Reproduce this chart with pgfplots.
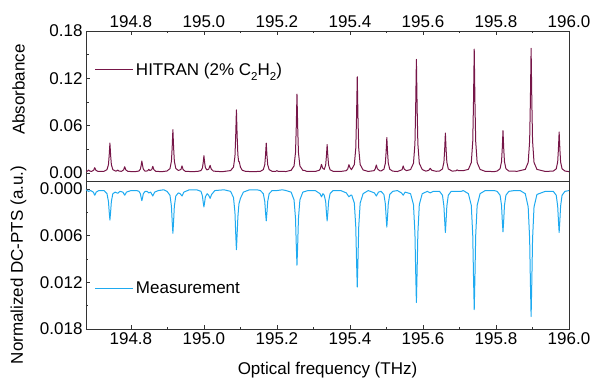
\documentclass[border=0pt]{standalone}
\usepackage{fontspec}
\setmainfont{Liberation Sans}
\usepackage{pgfplots}
\usepackage{pgfplotstable}
\pgfplotsset{compat=1.18}
\definecolor{hit}{RGB}{118,22,72}
\definecolor{meas}{RGB}{30,170,240}
\newcommand\ff{\fontsize{17}{20}\selectfont}
\newcommand\sub[1]{\raisebox{-0.28em}{\fontsize{11.5}{12}\selectfont #1}}
% x = optical frequency minus 194 THz (offset kept for numerical precision)
\pgfplotstableread[row sep=\\]{
x y\\
0.677 0.0018\\ 0.681 0.0024\\ 0.684 0.0038\\ 0.687 0.0026\\ 0.692 0.0020\\ 0.698 0.0036\\ 0.701 0.0068\\ 0.704 0.0036\\ 0.709 0.0022\\
0.7265 0.0022\\ 0.7345 0.0043\\ 0.7385 0.0106\\ 0.7405 0.0223\\ 0.7425 0.0380\\ 0.7445 0.0223\\ 0.7465 0.0106\\ 0.7505 0.0043\\ 0.7585 0.0024\\
0.761 0.0027\\ 0.764 0.0038\\ 0.767 0.0026\\ 0.774 0.0021\\ 0.780 0.0040\\ 0.783 0.0080\\ 0.786 0.0040\\ 0.792 0.0020\\
0.812 0.0018\\ 0.822 0.0025\\ 0.826 0.0050\\ 0.828 0.0094\\ 0.830 0.0153\\ 0.832 0.0094\\ 0.834 0.0050\\ 0.838 0.0026\\
0.842 0.0024\\ 0.846 0.0030\\ 0.849 0.0047\\ 0.852 0.0032\\ 0.857 0.0042\\ 0.860 0.0085\\ 0.863 0.0042\\ 0.868 0.0022\\
0.885 0.0017\\ 0.899 0.0026\\ 0.907 0.0056\\ 0.911 0.0149\\ 0.913 0.0320\\ 0.915 0.0550\\ 0.917 0.0320\\ 0.919 0.0149\\ 0.923 0.0058\\ 0.930 0.0032\\
0.937 0.0045\\ 0.940 0.0090\\ 0.943 0.0044\\ 0.949 0.0022\\
0.970 0.0017\\ 0.984 0.0022\\ 0.992 0.0031\\ 0.996 0.0066\\ 0.998 0.0132\\ 1.000 0.0220\\ 1.002 0.0132\\ 1.004 0.0068\\ 1.008 0.0040\\
1.013 0.0048\\ 1.017 0.0098\\ 1.020 0.0050\\ 1.026 0.0024\\
1.050 0.0017\\ 1.073 0.0031\\ 1.081 0.0075\\ 1.085 0.0211\\ 1.087 0.0462\\ 1.089 0.0800\\ 1.091 0.0470\\ 1.093 0.0230\\ 1.095 0.0150\\ 1.097 0.0140\\ 1.100 0.0075\\ 1.105 0.0035\\ 1.115 0.0020\\
1.140 0.0018\\ 1.1547 0.0022\\ 1.1627 0.0043\\ 1.1667 0.0106\\ 1.1687 0.0223\\ 1.1707 0.0380\\ 1.1727 0.0223\\ 1.1747 0.0106\\ 1.1787 0.0043\\ 1.1867 0.0022\\
1.197 0.0022\\ 1.200 0.0030\\ 1.203 0.0022\\
1.225 0.0019\\ 1.2389 0.0035\\ 1.2469 0.0090\\ 1.2509 0.0261\\ 1.2529 0.0576\\ 1.2549 0.1000\\ 1.2569 0.0576\\ 1.2589 0.0261\\ 1.2629 0.0090\\ 1.2709 0.0035\\
1.276 0.0032\\ 1.282 0.0020\\
1.305 0.0020\\ 1.316 0.0035\\ 1.319 0.0055\\ 1.322 0.0110\\ 1.325 0.0065\\ 1.3295 0.0045\\ 1.3335 0.0101\\ 1.3355 0.0212\\ 1.3375 0.0360\\ 1.3395 0.0212\\ 1.3415 0.0101\\ 1.3455 0.0041\\ 1.3535 0.0022\\
1.375 0.0020\\ 1.390 0.0030\\ 1.394 0.0052\\ 1.3972 0.0106\\ 1.400 0.0070\\ 1.404 0.0042\\
1.412 0.0107\\ 1.416 0.0316\\ 1.418 0.0702\\ 1.420 0.1220\\ 1.422 0.0702\\ 1.424 0.0316\\ 1.428 0.0107\\ 1.436 0.0039\\ 1.450 0.0020\\
1.466 0.0030\\ 1.469 0.0050\\ 1.4723 0.0102\\ 1.475 0.0055\\ 1.481 0.0030\\
1.485 0.0026\\ 1.493 0.0048\\ 1.497 0.0124\\ 1.499 0.0263\\ 1.501 0.0450\\ 1.503 0.0263\\ 1.505 0.0124\\ 1.509 0.0048\\ 1.517 0.0024\\
1.530 0.0019\\ 1.5428 0.0042\\ 1.5458 0.0090\\ 1.5488 0.0048\\ 1.555 0.0030\\
1.566 0.0044\\ 1.574 0.0123\\ 1.578 0.0371\\ 1.580 0.0827\\ 1.582 0.1440\\ 1.584 0.0827\\ 1.586 0.0371\\ 1.590 0.0123\\ 1.598 0.0044\\ 1.608 0.0024\\
1.616 0.0035\\ 1.620 0.0060\\ 1.624 0.0035\\ 1.636 0.0022\\
1.6454 0.0025\\ 1.6534 0.0052\\ 1.6574 0.0138\\ 1.6594 0.0295\\ 1.6614 0.0507\\ 1.6634 0.0295\\ 1.6654 0.0138\\ 1.6694 0.0052\\
1.680 0.0024\\ 1.690 0.0028\\ 1.6936 0.0040\\ 1.697 0.0030\\ 1.710 0.0030\\
1.7244 0.0046\\ 1.7324 0.0133\\ 1.7364 0.0404\\ 1.7384 0.0901\\ 1.7404 0.1570\\ 1.7424 0.0901\\ 1.7444 0.0404\\ 1.7484 0.0133\\ 1.7564 0.0046\\ 1.770 0.0022\\
1.795 0.0018\\ 1.8032 0.0025\\ 1.8112 0.0055\\ 1.8152 0.0145\\ 1.8172 0.0312\\ 1.8192 0.0536\\ 1.8212 0.0312\\ 1.8232 0.0145\\ 1.8272 0.0055\\ 1.8352 0.0025\\ 1.858 0.0022\\
1.8802 0.0046\\ 1.8882 0.0134\\ 1.8922 0.0406\\ 1.8942 0.0907\\ 1.8962 0.1580\\ 1.8982 0.0907\\ 1.9002 0.0406\\ 1.9042 0.0134\\ 1.9122 0.0046\\ 1.935 0.0020\\
1.957 0.0025\\ 1.965 0.0053\\ 1.969 0.0141\\ 1.971 0.0303\\ 1.973 0.0520\\ 1.975 0.0303\\ 1.977 0.0141\\ 1.981 0.0053\\ 1.989 0.0025\\ 2.000 0.0018\\
}\hitran
\pgfplotstableread[row sep=\\]{
x y\\
0.677 0.0001\\ 0.684 0.0003\\ 0.690 0.0002\\ 0.697 0.0004\\ 0.701 0.0008\\ 0.705 0.0004\\ 0.712 0.0002\\
0.7265 0.0002\\ 0.7345 0.0006\\ 0.7385 0.0016\\ 0.7405 0.0029\\ 0.7425 0.0040\\ 0.7445 0.0029\\ 0.7465 0.0016\\ 0.7505 0.0006\\ 0.757 0.0004\\
0.764 0.00055\\ 0.770 0.0003\\ 0.778 0.0004\\ 0.783 0.0008\\ 0.788 0.0004\\ 0.800 0.0002\\
0.816 0.0002\\ 0.822 0.0003\\ 0.826 0.0006\\ 0.828 0.0011\\ 0.830 0.0015\\ 0.832 0.0011\\ 0.834 0.0006\\ 0.839 0.0003\\
0.844 0.0003\\ 0.849 0.0005\\ 0.854 0.0004\\ 0.860 0.0009\\ 0.865 0.0004\\ 0.875 0.0002\\
0.890 0.0001\\ 0.899 0.0003\\ 0.907 0.0008\\ 0.911 0.0022\\ 0.913 0.0041\\ 0.915 0.0057\\ 0.917 0.0041\\ 0.919 0.0022\\ 0.923 0.0009\\ 0.930 0.0005\\
0.935 0.0006\\ 0.940 0.0009\\ 0.945 0.0004\\ 0.960 0.0001\\
0.980 0.0001\\ 0.992 0.0003\\ 0.996 0.0009\\ 0.998 0.0017\\ 1.000 0.0023\\ 1.002 0.0017\\ 1.004 0.0010\\ 1.009 0.0006\\
1.013 0.0008\\ 1.017 0.0012\\ 1.021 0.0007\\ 1.030 0.0002\\
1.055 0.0001\\ 1.073 0.0003\\ 1.081 0.0011\\ 1.085 0.0030\\ 1.087 0.0056\\ 1.089 0.0078\\ 1.091 0.0058\\ 1.093 0.0036\\ 1.096 0.0019\\ 1.100 0.0012\\ 1.108 0.0004\\ 1.125 0.0001\\
1.145 0.0001\\ 1.1547 0.0002\\ 1.1627 0.0006\\ 1.1667 0.0016\\ 1.1687 0.0030\\ 1.1707 0.0041\\ 1.1727 0.0030\\ 1.1747 0.0016\\ 1.1787 0.0006\\ 1.1867 0.0002\\
1.200 0.0002\\ 1.215 0.0001\\
1.225 0.0002\\ 1.2389 0.0004\\ 1.2469 0.0014\\ 1.2509 0.0038\\ 1.2529 0.0071\\ 1.2549 0.0098\\ 1.2569 0.0071\\ 1.2589 0.0038\\ 1.2629 0.0014\\ 1.2709 0.0004\\ 1.285 0.0002\\
1.305 0.0002\\ 1.318 0.0006\\ 1.322 0.0010\\ 1.326 0.0006\\ 1.3295 0.0008\\ 1.3335 0.0016\\ 1.3355 0.0030\\ 1.3375 0.0041\\ 1.3395 0.0030\\ 1.3415 0.0016\\ 1.3455 0.0006\\ 1.3535 0.0002\\
1.375 0.0002\\ 1.390 0.0005\\ 1.3972 0.0010\\ 1.402 0.0008\\ 1.405 0.0008\\
1.412 0.0018\\ 1.416 0.0049\\ 1.418 0.0091\\ 1.420 0.0126\\ 1.422 0.0091\\ 1.424 0.0049\\ 1.428 0.0018\\ 1.436 0.0006\\ 1.450 0.0002\\
1.467 0.0005\\ 1.4723 0.0009\\ 1.478 0.0004\\
1.485 0.0003\\ 1.493 0.0007\\ 1.497 0.0019\\ 1.499 0.0035\\ 1.501 0.0049\\ 1.503 0.0035\\ 1.505 0.0019\\ 1.509 0.0007\\ 1.517 0.0003\\
1.530 0.0002\\ 1.541 0.0005\\ 1.5458 0.0008\\ 1.551 0.0004\\
1.566 0.0006\\ 1.574 0.0020\\ 1.578 0.0057\\ 1.580 0.0105\\ 1.582 0.0146\\ 1.584 0.0105\\ 1.586 0.0057\\ 1.590 0.0020\\ 1.598 0.0006\\ 1.612 0.0003\\
1.620 0.0005\\ 1.628 0.0003\\
1.6454 0.0003\\ 1.6534 0.0008\\ 1.6574 0.0022\\ 1.6594 0.0040\\ 1.6614 0.0056\\ 1.6634 0.0040\\ 1.6654 0.0022\\ 1.6694 0.0008\\ 1.6774 0.0003\\
1.6936 0.0003\\ 1.705 0.0003\\ 1.7104 0.0002\\
1.7244 0.0006\\ 1.7324 0.0021\\ 1.7364 0.0060\\ 1.7384 0.0112\\ 1.7404 0.0155\\ 1.7424 0.0112\\ 1.7444 0.0060\\ 1.7484 0.0021\\ 1.7564 0.0006\\ 1.7704 0.0002\\
1.795 0.0002\\ 1.8032 0.0003\\ 1.8112 0.0008\\ 1.8152 0.0021\\ 1.8172 0.0040\\ 1.8192 0.0055\\ 1.8212 0.0040\\ 1.8232 0.0021\\ 1.8272 0.0008\\ 1.8352 0.0003\\ 1.850 0.0002\\
1.8662 0.0002\\ 1.8802 0.0006\\ 1.8882 0.0023\\ 1.8922 0.0064\\ 1.8942 0.0118\\ 1.8962 0.0164\\ 1.8982 0.0118\\ 1.9002 0.0064\\ 1.9042 0.0023\\ 1.9122 0.0007\\ 1.935 0.0003\\
1.957 0.0003\\ 1.965 0.0008\\ 1.969 0.0022\\ 1.971 0.0040\\ 1.973 0.0056\\ 1.975 0.0040\\ 1.977 0.0022\\ 1.981 0.0008\\ 1.989 0.0003\\ 2.000 0.0002\\
}\meas
\pgfplotsset{
  myax/.style={
    scale only axis, width=483pt,
    xmin=0.677, xmax=2.0,
    xtick={0.8,1.0,1.2,1.4,1.6,1.8,2.0},
    xticklabels={194.8,195.0,195.2,195.4,195.6,195.8,196.0},
    minor x tick num=1, minor y tick num=1,
    tick align=inside, major tick length=4pt, minor tick length=2.5pt,
    ytick pos=left,
    axis line style={black!80, line width=0.8pt},
    every tick/.append style={black!80, line width=0.7pt},
    tick label style={font=\ff},
    label style={font=\ff},
    /pgf/number format/assume math mode=true,
    scaled y ticks=false,
    legend style={draw=none, fill=none, font=\ff, anchor=west, legend cell align=left},
    legend image code/.code={\draw[##1, line width=1pt] (0pt,0pt) -- (38pt,0pt);},
  }
}
\begin{document}
\begin{tikzpicture}
\path[use as bounding box] (0pt,0pt) rectangle (600pt,388pt);
\begin{axis}[myax, at={(86pt,207pt)}, anchor=south west, height=150pt,
  ymin=-0.0101, ymax=0.18, ytick={0,0.06,0.12,0.18},
  yticklabel style={/pgf/number format/.cd, fixed, fixed zerofill, precision=2},
  xtick pos=right, xticklabel pos=right,
  ylabel={Absorbance},
  ylabel style={at={(axis description cs:-0.1398,0.61)}, anchor=center},
  legend style={at={(axis description cs:0.012,0.74)}},
]
\addplot[hit, line width=1pt, line join=round] table[x=x,y=y] {\hitran};
\addlegendentry{HITRAN (2\% C\sub{2}H\sub{2})}
\end{axis}
\begin{axis}[myax, at={(86pt,59pt)}, anchor=south west, height=148pt,
  y dir=reverse, ymin=-0.00103, ymax=0.018, ytick={0,0.006,0.012,0.018},
  yticklabel style={/pgf/number format/.cd, fixed, fixed zerofill, precision=3},
  xtick pos=left, xticklabel pos=left,
  xlabel={Optical frequency (THz)},
  xlabel style={at={(axis description cs:0.5,-0.277)}, anchor=center},
  ylabel={Normalized DC-PTS (a.u.)},
  ylabel style={at={(axis description cs:-0.1398,0.432)}, anchor=center},
  legend style={at={(axis description cs:0.012,0.277)}},
]
\addplot[meas, line width=1pt, line join=round] table[x=x,y=y] {\meas};
\addlegendentry{Measurement}
\end{axis}
\end{tikzpicture}
\end{document}
